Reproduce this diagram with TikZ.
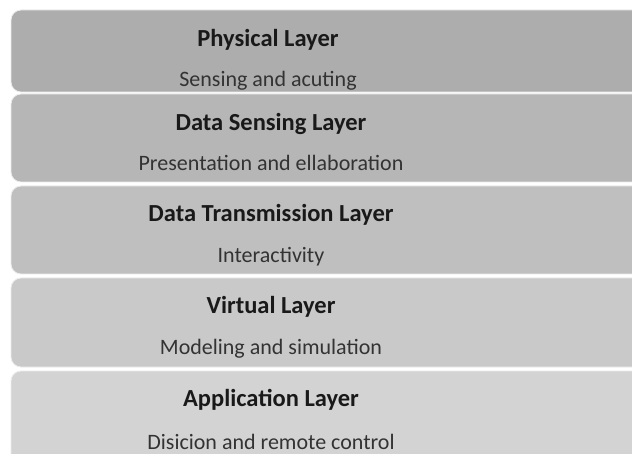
\documentclass[tikz,border=0pt]{standalone}
\usepackage{fontspec}
\setmainfont{Carlito}
\begin{document}
\begin{tikzpicture}[x=1pt,y=-1pt,
  layer/.style={rounded corners=10pt, draw=white!85!gray, line width=0.8pt},
  title/.style={font=\fontsize{24.5}{26}\selectfont\bfseries, text=black!90, inner sep=0pt},
  sub/.style={font=\fontsize{22}{24}\selectfont, text=black!80, inner sep=0pt}]
\useasboundingbox (0,0) rectangle (632,454);
\clip (0,0) rectangle (632,454);
\fill[white] (0,0) rectangle (632,454);
\definecolor{gA}{HTML}{ADADAD}
\definecolor{gB}{HTML}{B6B6B6}
\definecolor{gC}{HTML}{BFBFBF}
\definecolor{gD}{HTML}{C9C9C9}
\definecolor{gE}{HTML}{D3D3D3}
% stacked layer bands
\filldraw[layer, fill=gA] (11,10) rectangle (660,92);
\filldraw[layer, fill=gB] (11,94) rectangle (660,182);
\filldraw[layer, fill=gC] (11,186) rectangle (660,274);
\filldraw[layer, fill=gD] (11,278) rectangle (660,367);
\filldraw[layer, fill=gE] (11,371) rectangle (660,470);
% labels
\node[title] (t1) at (268,40) {Physical Layer};
\node[sub]   (s1) at (268,81) {Sensing and acuting};
\node[title] (t2) at (271,124) {Data Sensing Layer};
\node[sub]   (s2) at (271,163) {Presentation and ellaboration};
\node[title] (t3) at (271,215) {Data Transmission Layer};
\node[sub]   (s3) at (271,257) {Interactivity};
\node[title] (t4) at (271,307) {Virtual Layer};
\node[sub]   (s4) at (271,349) {Modeling and simulation};
\node[title] (t5) at (271,400) {Application Layer};
\node[sub]   (s5) at (271,442) {Disicion and remote control};
\end{tikzpicture}
\end{document}
